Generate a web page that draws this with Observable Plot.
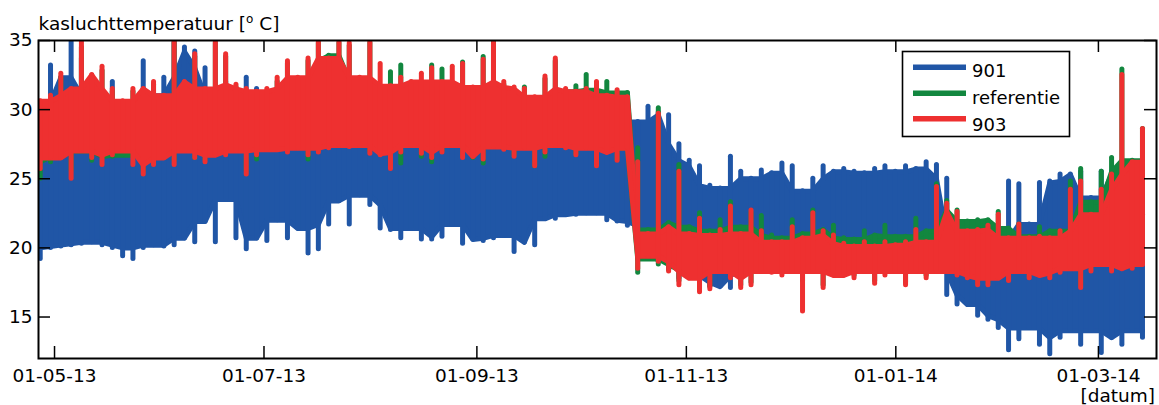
<!DOCTYPE html>
<html><head><meta charset="utf-8">
<script src="https://cdn.jsdelivr.net/npm/d3@7"></script>
<script src="https://cdn.jsdelivr.net/npm/@observablehq/plot@0.6"></script>
<style>body{margin:0;background:#fff}</style>
</head><body><div id="chart"></div>
<script>
// ---- data (one sample every 3 days, daily min/max envelope) ----
const seriesNames = ["901", "referentie", "903"];
const seriesColors = ["#2056a6", "#12873f", "#ee3030"];
const firstSample = "2013-04-26T20:00:00Z";
const sampleStepDays = 3;

const lo901 = [
19.2,20.0,20.1,20.2,20.3,20.4,20.2,20.0,19.4,19.2,20.0,20.2,20.1,20.2,20.7,20.4,21.9,20.4,23.5,20.7,19.9,20.7,
20.5,22.0,20.7,21.4,19.6,19.9,21.7,23.4,21.7,23.8,23.1,21.4,21.3,20.7,21.4,20.6,20.6,20.8,21.7,20.3,20.6,20.5,
20.7,20.9,19.7,20.4,20.2,22.1,22.1,22.4,22.4,22.5,22.5,22.0,21.9,21.6,
19.5,19.5,19.0,18.5,17.8,18.0,17.5,17.2,
17.2,17.1,18.0,18.4,18.6,18.5,18.6,18.5,18.4,18.6,18.5,18.6,18.5,18.4,18.6,18.5,18.6,18.5,18.4,18.6,18.5,18.3,
16.6,15.9,15.9,15.1,14.8,14.2,12.6,13.4,14.2,13.0,12.3,13.5,14.0,13.0,14.0,12.4,13.5,13.0,14.0,13.5];
const hi901 = [
30.5,33.2,32.3,35.0,33.7,31.0,31.0,32.0,30.5,30.5,33.5,31.0,32.3,35.0,34.5,34.2,33.0,31.0,32.0,31.0,32.3,31.5,
30.2,30.0,30.4,30.0,30.1,30.3,30.0,30.2,30.0,30.4,30.1,30.0,30.2,30.1,30.3,30.0,30.2,30.1,30.0,30.2,30.1,30.0,
29.8,29.6,29.5,29.8,29.4,29.6,29.5,29.7,29.4,29.6,29.5,29.3,29.4,29.6,
29.1,30.2,29.8,29.6,27.5,26.3,25.9,24.5,
24.3,26.6,25.5,25.0,25.6,25.4,26.1,25.9,24.1,25.0,25.9,25.5,25.7,25.5,25.4,25.7,25.9,25.5,25.9,25.7,26.2,26.0,
25.0,20.8,20.6,20.7,20.5,20.6,24.8,24.6,21.7,24.7,24.8,25.3,25.3,25.5,23.6,25.5,25.5,25.3,24.5,22.4];

const loRef = [
25.0,26.2,26.6,25.6,27.0,26.3,26.6,26.6,26.7,26.7,25.6,26.3,26.6,26.3,27.2,26.5,26.4,27.0,27.4,27.2,25.6,26.4,
27.3,27.3,27.0,27.4,26.4,27.0,27.4,27.5,27.4,27.5,27.0,26.9,25.9,26.1,27.5,26.6,26.2,27.0,27.6,26.7,26.5,26.1,
27.4,27.2,26.7,27.3,25.9,26.6,27.5,27.3,26.8,27.3,26.0,27.0,26.4,27.2,
18.2,19.2,18.8,18.4,17.6,17.9,17.0,17.2,
18.5,18.0,17.3,17.5,18.5,18.4,18.2,18.5,17.6,18.5,17.3,18.2,18.2,18.0,18.5,17.6,18.2,18.5,17.5,18.5,18.0,18.5,
18.5,18.2,18.0,17.5,17.5,18.0,17.8,18.5,18.0,18.2,18.0,18.4,18.7,17.3,18.5,19.0,18.5,18.7,18.7,19.0];
const hiRef = [
30.3,30.8,32.3,31.3,34.5,32.3,32.8,31.3,30.4,31.3,31.3,31.8,30.8,34.8,31.8,33.8,31.3,34.8,33.8,31.6,31.3,31.1,
31.3,32.0,33.3,32.1,33.5,34.8,33.9,34.8,34.6,32.1,34.8,31.4,32.7,33.2,31.6,31.8,33.2,32.9,31.6,33.4,31.4,33.8,
34.9,31.8,31.4,31.6,30.7,32.2,33.5,31.3,31.7,32.5,31.4,32.0,31.2,31.2,
27.2,21.3,30.1,21.8,26.0,21.5,22.5,21.2,
22.0,23.3,21.5,22.5,22.3,20.9,20.7,22.0,21.0,22.7,21.3,21.6,20.7,20.6,21.2,20.9,21.6,20.8,20.8,22.1,21.2,24.6,
23.4,22.7,21.9,22.0,22.0,22.6,21.4,21.7,20.8,21.5,21.2,21.2,24.8,25.7,23.3,25.5,26.5,32.9,26.3,28.6];

const lo903 = [
25.7,26.5,26.5,25.0,27.0,26.5,26.0,26.7,27.0,26.0,25.3,26.0,26.5,26.0,27.0,26.5,26.2,26.7,26.7,27.0,25.3,26.7,
27.1,27.1,26.9,27.2,26.7,26.9,27.2,27.4,27.3,27.4,26.8,26.7,25.7,26.9,27.4,26.8,26.5,26.9,27.4,26.5,26.6,26.4,
27.3,27.1,26.6,27.2,25.9,26.9,27.4,27.2,26.7,27.2,25.9,26.9,26.3,27.2,
18.5,19.4,19.0,18.3,17.3,17.8,16.8,17.0,
18.3,17.8,17.1,17.3,18.3,18.2,18.0,18.3,15.4,18.3,17.1,18.0,18.0,17.8,18.3,17.4,18.0,18.3,17.3,18.3,17.8,18.3,
18.3,18.0,17.8,17.3,17.3,17.8,17.6,18.3,17.8,18.0,17.8,18.2,18.5,17.1,18.3,18.8,18.3,18.5,18.5,18.8];
const hi903 = [
30.6,31.0,32.6,31.5,35.0,32.5,33.1,31.5,30.6,31.5,31.5,32.0,31.0,35.0,32.0,34.0,31.5,35.0,34.0,31.8,31.5,31.3,
31.5,32.3,33.5,32.3,33.7,35.0,33.7,35.0,34.8,32.3,35.0,33.3,31.7,32.3,32.0,32.6,33.0,32.0,33.1,33.3,31.6,33.6,
34.8,32.0,31.6,31.5,30.9,32.4,33.7,31.5,31.3,31.5,32.0,31.0,31.4,30.9,
26.2,21.0,29.7,21.5,25.5,21.0,22.1,20.9,
21.3,23.0,21.0,22.7,21.2,20.4,20.4,21.5,20.7,22.5,21.2,20.9,20.3,20.1,20.4,20.1,20.4,20.2,20.4,21.3,20.4,24.4,
23.2,22.6,21.2,21.3,21.6,22.4,20.7,21.7,20.7,20.8,20.7,21.2,24.2,24.8,22.4,24.2,25.3,32.5,26.2,28.6];

const xTicks = ["2013-05-01", "2013-07-01", "2013-09-01", "2013-11-01", "2014-01-01", "2014-03-01"];
const xTickLabels = ["01-05-13", "01-07-13", "01-09-13", "01-11-13", "01-01-14", "01-03-14"];
const yTicks = [15, 20, 25, 30, 35];
const xDomain = ["2013-04-26T08:00:00Z", "2014-03-17T22:00:00Z"];
const yDomain = [12, 35];
const yTitle = "kasluchttemperatuur [";
const xTitle = "[datum]";

// ---- build tables ----
const DAY = 864e5;
const t0 = new Date(firstSample).getTime();
const loArrays = [lo901, loRef, lo903];
const hiArrays = [hi901, hiRef, hi903];
// neighbours in the same regime (a jump of the daily minimum > 4 degrees separates regimes)
const near = (lo, k) => [k - 1, k, k + 1].filter(j => j >= 0 && j < lo.length && Math.abs(lo[j] - lo[k]) < 4);
const tables = seriesNames.map((name, s) => {
  const lo = loArrays[s], hi = hiArrays[s];
  return lo.map((l, k) => {
    const nb = near(lo, k);
    return {
      series: name,
      date: new Date(t0 + k * sampleStepDays * DAY),
      lo: l, hi: hi[k],
      loBase: d3.max(nb, j => lo[j]),   // dense core of the band
      hiBase: d3.min(nb, j => hi[j])
    };
  });
});
const xTickDates = xTicks.map(d => new Date(d + "T00:00:00Z"));

const W = 1159, H = 405, mL = 38, mR = 3, mT = 40, mB = 47;
const innerW = W - mL - mR, innerH = H - mT - mB;
const tickLen = 12;
const sw = 5;

const seriesMarks = tables.flatMap((tab, s) => [
  Plot.areaY(tab, {x: "date", y1: "loBase", y2: "hiBase", fill: seriesColors[s], clip: true}),
  Plot.line(tab, {x: "date", y: "hiBase", stroke: seriesColors[s], strokeWidth: sw, strokeLinejoin: "round", strokeLinecap: "round", clip: true}),
  Plot.line(tab, {x: "date", y: "loBase", stroke: seriesColors[s], strokeWidth: sw, strokeLinejoin: "round", strokeLinecap: "round", clip: true}),
  Plot.ruleX(tab, {x: "date", y1: "lo", y2: "hi", stroke: seriesColors[s], strokeWidth: sw, strokeLinecap: "round", clip: true})
]);

const plot = Plot.plot({
  width: W, height: H,
  marginLeft: mL, marginRight: mR, marginTop: mT, marginBottom: mB,
  style: {fontFamily: "'DejaVu Sans', Verdana, sans-serif", fontSize: "18.5px", color: "#000", background: "#fff"},
  x: {type: "utc", domain: xDomain.map(d => new Date(d))},
  y: {domain: yDomain},
  marks: [
    ...seriesMarks,
    Plot.ruleX(xTickDates, {x: d => d, insetTop: innerH - tickLen, stroke: "#000", strokeWidth: 1.5}),
    Plot.ruleX(xTickDates, {x: d => d, insetBottom: innerH - tickLen, stroke: "#000", strokeWidth: 1.5}),
    Plot.ruleY(yTicks, {y: d => d, insetRight: innerW - tickLen, stroke: "#000", strokeWidth: 1.5}),
    Plot.ruleY(yTicks, {y: d => d, insetLeft: innerW - tickLen, stroke: "#000", strokeWidth: 1.5}),
    Plot.frame({stroke: "#000", strokeWidth: 2}),
    Plot.axisY({ticks: yTicks, tickSize: 0, tickPadding: 6, label: null}),
    Plot.axisX({ticks: xTickDates, tickSize: 0, tickPadding: 10, label: null,
      tickFormat: d => xTickLabels[xTickDates.findIndex(t => +t === +d)]})
  ]
});

const svg = d3.select(plot);
// y title with superscript o
const tt = svg.append("text").attr("x", 38.5).attr("y", 29.5).attr("text-anchor", "start")
  .attr("font-size", 18.5).attr("fill", "#000");
tt.append("tspan").text(yTitle);
tt.append("tspan").attr("dy", -7).attr("font-size", 12).text("o");
tt.append("tspan").attr("dy", 7).text(" C]");
// x title
svg.append("text").attr("x", 1155).attr("y", 402).attr("text-anchor", "end")
  .attr("font-size", 18.5).attr("fill", "#000").text(xTitle);

// legend
const lg = svg.append("g");
lg.append("rect").attr("x", 902.5).attr("y", 51.5).attr("width", 167).attr("height", 85)
  .attr("fill", "#fff").attr("stroke", "#000").attr("stroke-width", 1.6);
const lineYs = [67.3, 93.3, 118.7], textYs = [77, 104, 131];
seriesNames.forEach((name, i) => {
  lg.append("line").attr("x1", 913).attr("x2", 966).attr("y1", lineYs[i]).attr("y2", lineYs[i])
    .attr("stroke", seriesColors[i]).attr("stroke-width", 5.5);
  lg.append("text").attr("x", 972).attr("y", textYs[i]).attr("text-anchor", "start")
    .attr("font-size", 18).attr("fill", "#000").text(name);
});

document.getElementById("chart").appendChild(plot);
</script>
</body></html>
